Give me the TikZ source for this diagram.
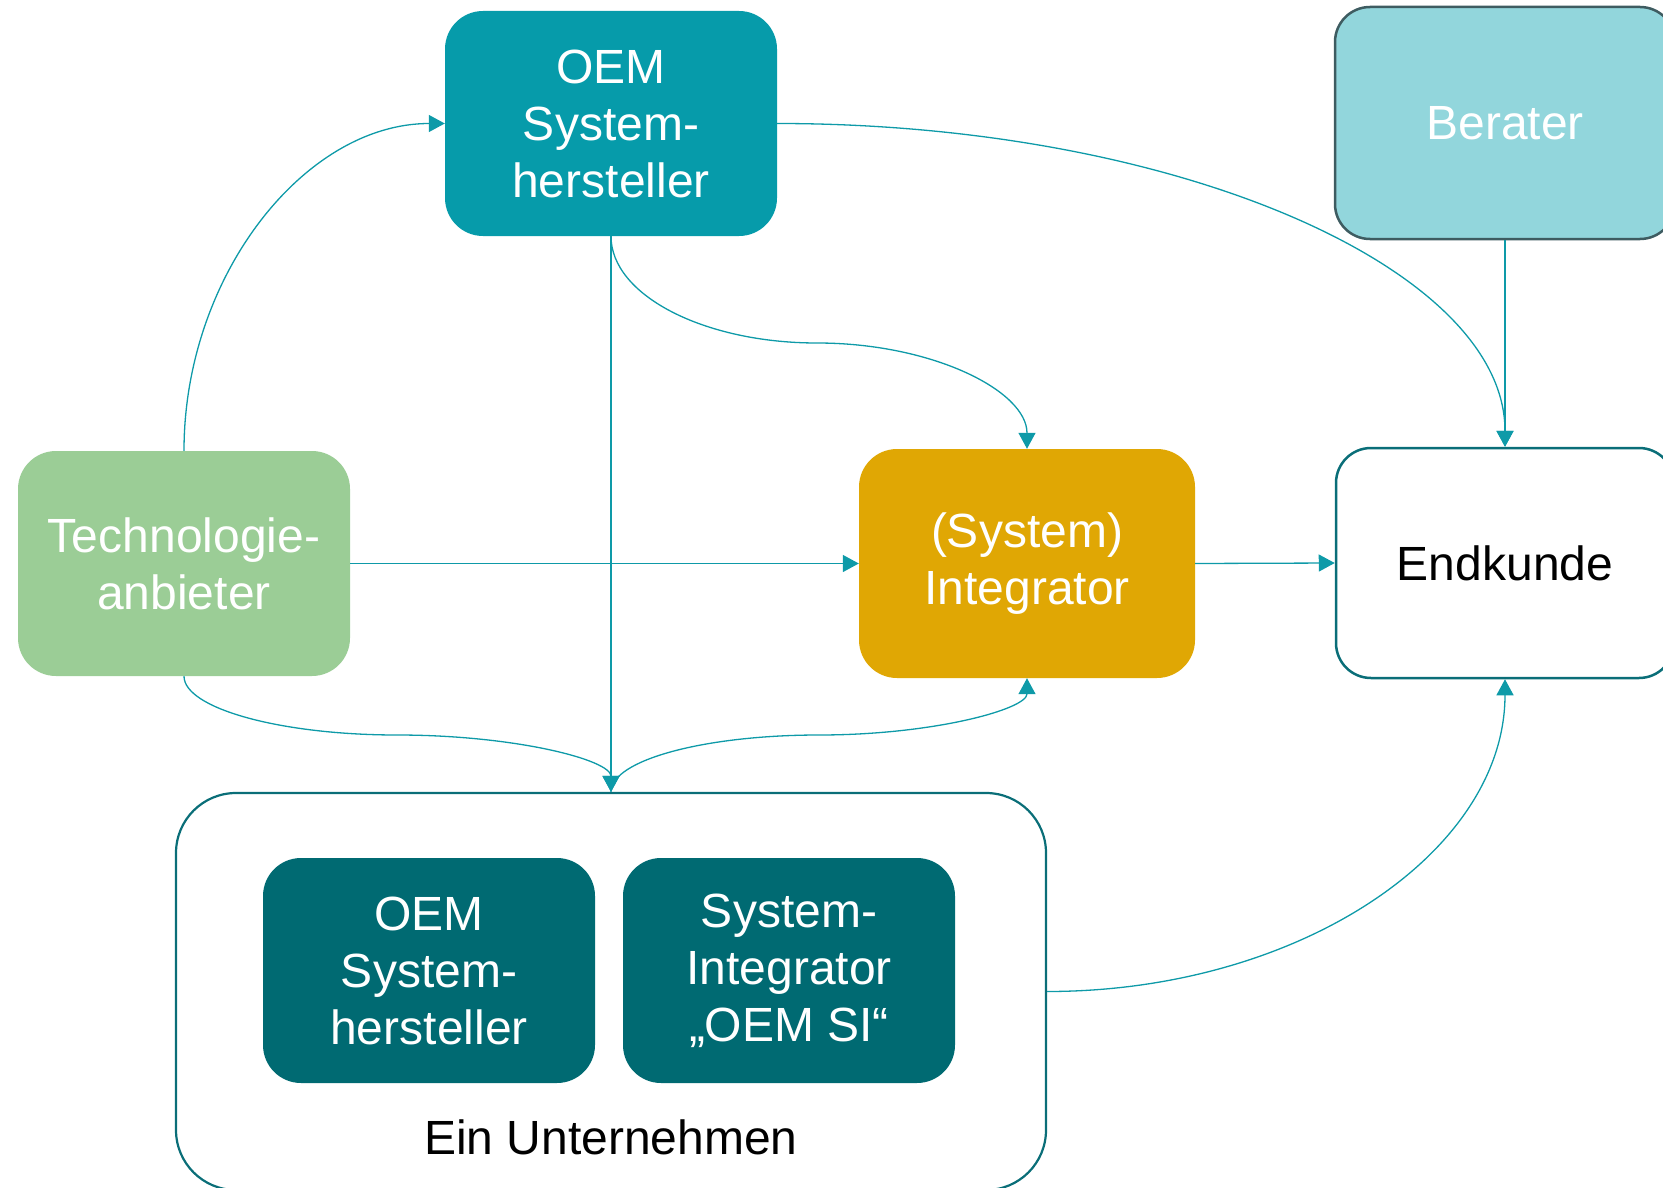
\documentclass[tikz,border=0pt]{standalone}
\usepackage{fontspec}
\setmainfont{Liberation Sans}
\usetikzlibrary{arrows.meta}
\definecolor{oemc}{HTML}{069BAA}
\definecolor{berc}{HTML}{92D6DC}
\definecolor{berd}{HTML}{3E5C61}
\definecolor{techc}{HTML}{9BCD96}
\definecolor{intc}{HTML}{E0A704}
\definecolor{innc}{HTML}{006A72}
\definecolor{frame}{HTML}{0A6E78}
\definecolor{arr}{HTML}{0E9AA8}
\begin{document}
\begin{tikzpicture}[x=1pt,y=-1pt,
  every node/.style={font=\fontsize{48}{57}\selectfont, align=center, inner sep=0pt},
  fbox/.style={rectangle, rounded corners=38pt, minimum width=332pt, minimum height=225pt, text=white},
  conn/.style={draw=arr, line width=1.3pt, -{Triangle[length=16pt,width=17pt]}}]
\useasboundingbox (0,0) rectangle (1663,1188);
\clip (0,0) rectangle (1663,1188);
% nodes
\node[fbox, fill=oemc] (oem) at (611,123.5) {OEM\\System-\\hersteller};
\node[fbox, fill=berc, draw=berd, line width=2.5pt, rounded corners=35pt, minimum width=340pt, minimum height=232pt] (ber) at (1505,123) {Berater};
\node[fbox, fill=techc] (tech) at (184,563.5) {Technologie-\\anbieter};
\node[fbox, fill=intc, minimum width=336pt, minimum height=229pt] (int) at (1027,563.5) {(System)\\Integrator};
\node[fbox, fill=white, draw=frame, line width=2.5pt, rounded corners=35pt, text=black, minimum width=338pt, minimum height=230pt] (end) at (1505,563) {Endkunde};
\node[rectangle, draw=frame, line width=2.2pt, rounded corners=60pt, minimum width=870pt, minimum height=397pt] (outer) at (611,991.5) {};
\node[fbox, fill=innc] (in1) at (429,970.5) {OEM\\System-\\hersteller};
\node[fbox, fill=innc] (in2) at (789,970.5) {System-\\Integrator\\„OEM SI“};
\node[text=black] (ein) at (611,1137) {Ein Unternehmen};
% connectors
\draw[conn] (tech.north) .. controls +(0,-175) and +(-140,0) .. (oem.west);
\draw[conn] (oem.east) .. controls +(400,0) and +(0,-178) .. (end.north);
\draw[conn] (ber.south) -- (end.north);
\coordinate (m1) at (817,343);
\draw[conn] (oem.south) .. controls +(0,59) and +(-113,0) .. (m1) .. controls +(115,0) and +(0,-58) .. (int.north);
\draw[conn] (oem.south) -- (outer.north);
\draw[conn] (tech.east) -- (int.west);
\draw[conn] (int.east) -- (end.west);
\coordinate (m2) at (397,735);
\draw[conn] (tech.south) .. controls +(0,32) and +(-117,0) .. (m2) .. controls +(118,0) and +(0,-32) .. (outer.north);
\coordinate (m3) at (819,735);
\draw[conn] (outer.north) .. controls +(0,-32) and +(-114,0) .. (m3) .. controls +(114,0) and +(0,31) .. (int.south);
\draw[conn] (outer.east) .. controls +(252,0) and +(0,173) .. (end.south);
\end{tikzpicture}
\end{document}
